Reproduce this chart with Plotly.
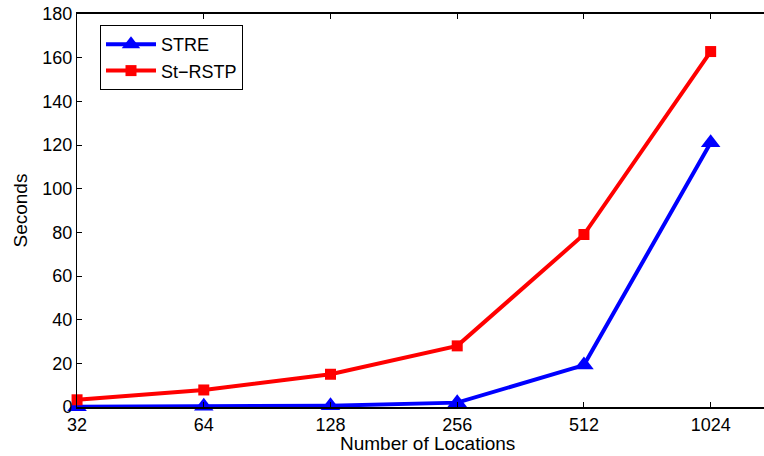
import plotly.graph_objects as go

locations = [32, 64, 128, 256, 512, 1024]
stre = [0.1, 0.3, 0.6, 2.0, 19.2, 121.0]
st_rstp = [3.3, 7.8, 15.0, 28.0, 79.0, 162.8]
x_tick_labels = ["32", "64", "128", "256", "512", "1024"]
y_ticks = [0, 20, 40, 60, 80, 100, 120, 140, 160, 180]

fig = go.Figure()
fig.add_trace(go.Scatter(
    x=locations, y=stre, name="STRE", mode="lines+markers",
    line=dict(color="#0000ff", width=4),
    marker=dict(symbol="triangle-up", size=17, color="#0000ff"),
    cliponaxis=False,
))
fig.add_trace(go.Scatter(
    x=locations, y=st_rstp, name="St\u2212RSTP", mode="lines+markers",
    line=dict(color="#ff0000", width=4),
    marker=dict(symbol="square", size=11, color="#ff0000"),
    cliponaxis=False,
))

fam = "Liberation Sans, Arial, sans-serif"
W, H = 764, 456
L, T, B = 77, 14, 49
plot_w = W - L
plot_h = H - T - B

fig.update_layout(
    width=W, height=H,
    margin=dict(l=L, r=0, t=T, b=B, autoexpand=False),
    paper_bgcolor="white", plot_bgcolor="white",
    font=dict(family=fam, size=18, color="black"),
    showlegend=True,
    legend=dict(
        x=(100 - L) / plot_w, y=1 - (25 - T) / plot_h, xanchor="left", yanchor="top",
        bordercolor="black", borderwidth=1, bgcolor="white",
        font=dict(family=fam, size=18),
        tracegroupgap=0, itemwidth=50,
    ),
    xaxis=dict(
        type="log", range=[1.5050, 3.137],
        tickvals=locations, ticktext=x_tick_labels,
        ticks="inside", ticklen=5, tickcolor="black",
        showline=True, linecolor="black", linewidth=2, mirror="ticks",
        showgrid=False, zeroline=False, automargin=False,
        tickfont=dict(size=18), ticklabeloverflow="allow",
    ),
    yaxis=dict(
        range=[0, 180], tickvals=y_ticks,
        ticks="inside", ticklen=5, tickcolor="black",
        showline=True, linecolor="black", linewidth=1,
        showgrid=False, zeroline=False, automargin=False,
        tickfont=dict(size=18), ticklabeloverflow="allow",
    ),
    annotations=[
        dict(text="Number of Locations", xref="paper", yref="paper",
             x=(427 - L) / plot_w, y=-(443 - (H - B)) / plot_h,
             xanchor="center", yanchor="middle", showarrow=False,
             font=dict(family=fam, size=19)),
        dict(text="Seconds", xref="paper", yref="paper",
             x=-(L - 20) / plot_w, y=0.5, textangle=-90,
             xanchor="center", yanchor="middle", showarrow=False,
             font=dict(family=fam, size=19)),
    ],
)

fig.write_html(
    "out.html",
    config={"displayModeBar": False},
    post_script="document.body.style.margin='0';document.body.style.overflow='hidden';",
)
